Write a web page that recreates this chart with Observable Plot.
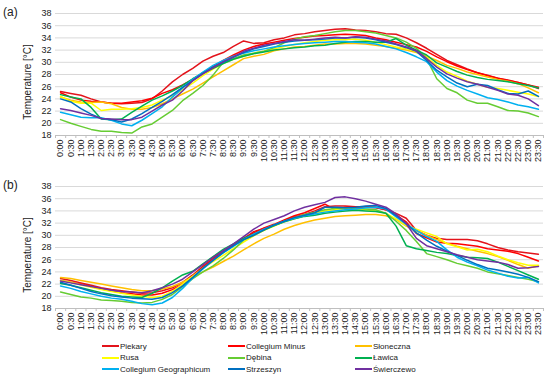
<!DOCTYPE html>
<html><head><meta charset="utf-8">
<script src="https://cdn.jsdelivr.net/npm/d3@7"></script>
<script src="https://cdn.jsdelivr.net/npm/@observablehq/plot@0.6"></script>
<style>
body{margin:0;background:#fff;font-family:"Liberation Sans",Arial,sans-serif;}
#wrap{position:relative;width:550px;height:377px;overflow:hidden;}
.panel{position:absolute;left:0;}
.plab{position:absolute;font-size:12px;color:#222;line-height:12px;}
.ylab{position:absolute;width:110px;height:12px;line-height:12px;text-align:center;font-size:10px;color:#222;transform:rotate(-90deg);white-space:nowrap;}
.leg{position:absolute;height:10px;font-size:8px;color:#222;display:flex;align-items:center;white-space:nowrap;}
.sw{display:inline-block;width:17px;height:2px;margin-right:1px;}
</style></head><body><div id="wrap"></div><script>
const times = ["0:00","0:30","1:00","1:30","2:00","2:30","3:00","3:30","4:00","4:30","5:00","5:30","6:00","6:30","7:00","7:30","8:00","8:30","9:00","9:30","10:00","10:30","11:00","11:30","12:00","12:30","13:00","13:30","14:00","14:30","15:00","15:30","16:00","16:30","17:00","17:30","18:00","18:30","19:00","19:30","20:00","20:30","21:00","21:30","22:00","22:30","23:00","23:30"];
const names = ["Piekary","Collegium Minus","Słoneczna","Rusa","Dębina","Ławica","Collegium Geographicum","Strzeszyn","Świerczewo"];
const colors = ["#e3131b","#ff0000","#ffc000","#ffff00","#66cc33","#00b050","#00b0f0","#0070c0","#7030a0"];
const yTicks = [18,20,22,24,26,28,30,32,34,36,38];

// Panel (a)
const aPiekary = [25.2,24.9,24.6,24.0,23.5,23.3,23.2,23.3,23.4,24.0,25.3,26.8,28.0,29.0,30.2,31.0,31.6,32.6,33.5,33.1,33.2,33.7,34.0,34.5,34.7,35.0,35.2,35.4,35.5,35.3,35.2,35.0,34.7,34.6,34.0,33.2,32.3,31.3,30.3,29.6,28.9,28.3,27.9,27.4,27.1,26.7,26.3,25.7];
const aCollegiumMinus = [25.0,24.3,23.8,23.6,23.5,23.3,23.3,23.5,23.7,24.1,24.9,25.5,26.3,27.2,28.3,29.3,30.3,31.2,32.0,32.6,33.0,33.3,33.6,33.9,34.1,34.3,34.4,34.5,34.6,34.5,34.4,34.0,33.7,33.3,32.9,32.5,31.8,30.9,30.1,29.4,28.8,28.3,27.8,27.4,27.0,26.7,26.3,25.9];
const aSloneczna = [24.3,23.8,23.5,23.4,23.5,23.2,22.6,22.3,22.3,22.6,23.2,24.0,24.8,25.6,26.6,27.6,28.6,29.6,30.6,31.0,31.3,31.9,32.2,32.5,32.6,32.8,33.0,33.0,33.1,33.1,33.0,32.8,32.6,32.3,32.0,31.6,31.0,30.3,29.5,29.0,28.4,28.0,27.6,27.2,26.9,26.5,25.8,25.0];
const aRusa = [24.4,23.6,23.3,23.3,22.1,22.3,22.3,22.4,22.6,23.0,23.8,24.5,25.5,26.6,27.8,28.9,29.8,30.5,31.0,31.5,31.8,32.2,32.6,32.9,33.2,33.4,33.6,33.7,33.7,33.8,33.6,33.3,32.9,32.5,32.2,31.8,30.8,29.5,28.4,27.7,26.9,26.4,25.9,25.7,25.4,25.1,24.8,24.4];
const aDebina = [20.6,20.0,19.5,19.0,18.7,18.7,18.5,18.4,19.4,19.9,21.0,22.1,23.7,24.9,26.2,27.9,30.0,30.6,31.2,31.5,31.8,32.4,33.2,33.8,34.2,34.4,34.7,35.0,35.2,35.2,35.0,34.8,34.4,34.0,33.3,32.3,30.6,27.3,25.7,25.0,23.8,23.3,23.3,22.7,22.1,22.0,21.7,21.1];
const aLawica = [24.7,24.3,24.0,22.6,20.7,20.6,20.7,21.8,22.8,23.8,24.5,25.3,26.2,27.3,28.2,29.0,29.8,30.5,31.0,31.4,31.7,32.0,32.2,32.4,32.5,32.7,32.8,33.1,33.3,33.4,33.4,33.3,33.3,33.9,32.8,32.0,31.2,29.9,29.2,28.5,27.9,27.5,27.2,27.0,26.8,26.5,26.2,25.8];
const aCollGeo = [21.8,21.4,21.0,20.9,20.9,20.5,19.9,19.6,20.5,21.6,22.7,24.3,25.8,27.2,28.4,29.5,30.3,31.0,31.5,31.9,32.2,32.5,32.7,32.9,33.1,33.2,33.3,33.4,33.4,33.3,33.2,33.0,32.6,32.2,31.6,30.9,30.1,28.4,27.0,26.1,25.4,24.8,24.2,23.9,23.5,23.0,22.7,22.3];
const aStrzeszyn = [24.0,23.5,22.4,21.5,20.8,20.6,20.2,20.7,21.6,22.6,23.6,24.7,25.9,27.0,28.2,29.2,30.0,30.8,31.6,32.2,32.6,33.0,33.3,33.5,33.6,33.7,33.8,34.0,34.0,34.1,34.0,33.7,33.3,32.9,32.4,31.8,30.3,28.7,27.6,26.6,26.0,26.4,26.2,25.5,24.9,24.8,25.3,24.4];
const aSwierczewo = [22.4,22.1,21.7,21.3,20.8,20.7,20.6,20.6,21.0,22.0,23.0,23.8,25.3,27.0,28.1,29.1,30.1,30.9,31.8,32.3,32.8,33.1,33.4,33.7,33.6,33.8,34.0,34.1,34.0,34.2,34.1,33.8,33.5,33.0,32.5,31.9,30.6,29.2,28.1,27.4,26.8,26.4,25.9,25.4,24.8,24.6,24.0,22.9];

// Panel (b)
const bPiekary = [22.9,22.6,22.2,21.8,21.4,21.1,20.9,20.7,20.5,20.6,20.9,21.4,22.3,23.5,24.9,26.2,27.3,28.4,29.4,30.6,31.1,31.6,32.3,33.0,33.4,34.0,34.7,34.8,34.8,34.7,34.6,34.5,34.2,33.6,32.8,30.8,30.0,29.5,29.3,29.3,29.3,29.1,28.6,28.0,27.6,27.3,27.1,26.9];
const bCollegiumMinus = [22.6,22.3,22.0,21.6,21.2,20.9,20.6,20.4,20.2,20.2,20.5,21.1,22.0,23.3,24.7,26.0,27.2,28.4,29.5,30.4,31.2,31.8,32.5,33.2,33.7,34.4,35.1,34.2,34.6,34.7,34.7,34.6,34.2,33.3,32.2,30.3,29.6,28.9,28.7,28.6,28.4,28.2,27.8,27.6,27.4,27.0,26.4,25.8];
const bSloneczna = [23.1,22.9,22.6,22.3,22.0,21.7,21.4,21.1,20.9,20.9,21.2,21.6,22.3,23.2,24.0,24.8,25.7,26.6,27.6,28.6,29.5,30.2,31.0,31.6,32.1,32.5,32.8,33.1,33.2,33.3,33.4,33.4,33.2,32.6,31.5,30.7,30.0,29.3,28.7,28.2,27.8,27.4,27.0,26.5,25.9,25.2,24.6,25.0];
const bRusa = [22.6,22.3,21.9,21.5,21.1,20.8,20.5,20.2,20.0,19.8,20.0,20.8,22.0,23.3,24.6,25.7,26.7,27.8,28.9,29.9,30.8,31.5,32.2,32.7,33.2,33.6,34.0,34.2,34.3,34.3,34.2,34.0,33.6,32.7,31.6,31.0,30.4,29.8,28.6,28.1,27.6,27.7,27.3,26.6,26.0,25.5,25.1,25.1];
const bDebina = [20.7,20.3,19.9,19.7,19.4,19.3,19.2,19.0,18.9,19.0,19.5,20.3,21.6,22.9,24.0,25.0,26.2,27.6,29.2,30.0,30.8,31.6,32.3,32.9,33.4,33.8,34.2,34.4,34.5,34.4,34.3,34.2,33.6,32.3,30.8,29.0,27.0,26.5,26.0,25.4,25.0,24.6,24.0,23.7,23.4,23.1,22.8,22.4];
const bLawica = [22.1,21.8,21.4,21.0,20.6,20.3,20.0,19.9,19.8,20.5,21.4,22.5,23.5,24.1,25.3,26.5,27.7,28.6,29.5,30.2,30.9,31.6,32.2,32.7,33.1,33.3,33.6,33.8,34.0,34.1,34.0,33.9,33.6,31.5,28.3,27.8,27.5,27.2,27.0,26.7,26.4,26.3,26.2,25.6,24.9,24.2,23.5,22.8];
const bCollGeo = [21.7,21.3,20.8,20.4,20.0,19.7,19.5,19.2,18.8,18.6,18.9,19.8,21.3,23.0,24.5,25.9,27.1,28.2,29.3,30.2,31.0,31.7,32.3,32.8,33.2,33.5,33.8,34.0,34.2,34.3,34.5,34.6,34.3,33.0,31.8,30.8,29.8,29.0,27.6,26.4,25.6,25.0,24.3,23.8,23.3,23.0,23.1,22.2];
const bStrzeszyn = [22.3,21.8,21.3,20.8,20.4,20.1,19.9,19.7,19.6,19.5,19.8,20.6,21.7,23.1,24.6,25.9,27.2,28.3,29.3,30.0,30.9,31.7,32.3,32.9,33.3,33.7,34.6,34.6,34.5,34.6,34.8,34.9,34.4,33.2,31.9,30.4,29.2,28.2,27.4,26.7,25.9,25.2,24.6,24.3,24.0,23.6,23.1,22.4];
const bSwierczewo = [22.5,22.2,21.9,21.6,21.3,21.0,20.8,20.7,20.6,20.9,21.4,22.0,22.8,24.0,25.2,26.4,27.5,28.6,29.8,31.0,32.0,32.6,33.2,34.0,34.6,35.0,35.4,36.2,36.3,36.0,35.6,35.1,34.6,33.5,31.9,29.5,28.3,27.8,27.3,26.8,26.4,26.0,25.8,25.6,25.2,24.6,24.7,24.9];

const seriesA = [aPiekary,aCollegiumMinus,aSloneczna,aRusa,aDebina,aLawica,aCollGeo,aStrzeszyn,aSwierczewo];
const seriesB = [bPiekary,bCollegiumMinus,bSloneczna,bRusa,bDebina,bLawica,bCollGeo,bStrzeszyn,bSwierczewo];

const idx = times.map((t, i) => i);
const bounds = times.map((t, i) => i - 0.5).concat([times.length - 0.5]);
const font = "Liberation Sans, Arial, sans-serif";

function panel(vals, mt, mb) {
  const rows = [];
  names.forEach((n, k) => vals[k].forEach((v, i) => rows.push({series: n, i, T: v})));
  return Plot.plot({
    width: 550, height: 170, marginTop: mt, marginBottom: mb, marginLeft: 55, marginRight: 7,
    style: {fontFamily: font, fontSize: "9px", color: "#222", background: "transparent"},
    x: {type: "linear", domain: [-0.5, times.length - 0.5], axis: null},
    y: {domain: [18, 38], axis: null},
    color: {domain: names, range: colors},
    marks: [
      Plot.gridY(yTicks, {stroke: "#d9d9d9", strokeOpacity: 1}),
      Plot.ruleY([18], {stroke: "#bfbfbf"}),
      Plot.axisY(yTicks, {tickSize: 0, tickPadding: 4, label: null, fontSize: 9}),
      Plot.axisX(bounds, {tickSize: 3, tickFormat: () => "", stroke: "#bfbfbf", label: null}),
      Plot.axisX(idx, {tickSize: 0, tickPadding: 4, tickRotate: -90, tickFormat: i => times[i], label: null, fontSize: 9}),
      Plot.line(rows, {x: "i", y: "T", z: "series", stroke: "series", strokeWidth: 1.5})
    ]
  });
}

const wrap = document.getElementById("wrap");
const pa = panel(seriesA, 13, 35);
pa.classList.add("panel"); pa.style.top = "0px";
wrap.appendChild(pa);
const pb = panel(seriesB, 16, 32);
pb.classList.add("panel"); pb.style.top = "170px";
wrap.appendChild(pb);

function addDiv(cls, text, left, top) {
  const d = document.createElement("div");
  d.className = cls; d.textContent = text;
  d.style.left = left + "px"; d.style.top = top + "px";
  wrap.appendChild(d); return d;
}
addDiv("plab", "(a)", 3, 6);
addDiv("plab", "(b)", 3, 179);
addDiv("ylab", "Temperature [°C]", 28 - 55, 82 - 6);
addDiv("ylab", "Temperature [°C]", 28 - 55, 255 - 6);

const legCols = [102, 228, 355];
const legRows = [346, 357.5, 369];
names.forEach((n, k) => {
  const d = addDiv("leg", "", legCols[k % 3], legRows[Math.floor(k / 3)] - 5);
  const s = document.createElement("span");
  s.className = "sw"; s.style.background = colors[k];
  d.appendChild(s);
  d.appendChild(document.createTextNode(n));
});
</script></body></html>
